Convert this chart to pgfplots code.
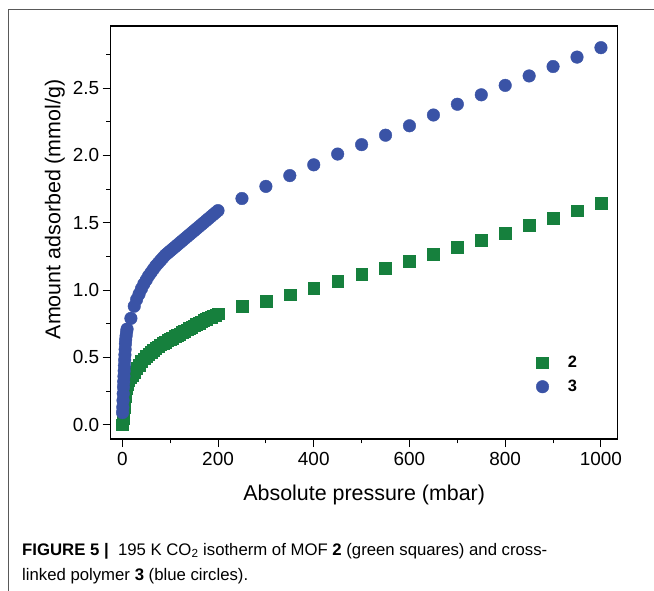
\documentclass[border=0pt]{standalone}
\usepackage{fontspec}
\setmainfont{Liberation Sans}
\usepackage{pgfplots}
\pgfplotsset{compat=1.18}
\definecolor{ptblue}{RGB}{58,83,166}
\definecolor{ptgreen}{RGB}{22,128,61}
\begin{document}
\begin{tikzpicture}
\useasboundingbox (0,0) rectangle (654bp,591bp);
\draw[gray!70!black, line width=0.8bp] (8bp,0) -- (8bp,582bp) -- (654bp,582bp);
\begin{axis}[
  at={(110.7bp,152bp)}, anchor=south west,
  scale only axis, width=507bp, height=413bp,
  xmin=-24.2, xmax=1035, ymin=-0.106, ymax=2.961,
  axis line style={line width=1.1bp},
  every tick/.style={black, line width=1.0bp},
  tick align=outside,
  xtick pos=bottom, ytick pos=left,
  xtick={0,200,...,1000}, minor xtick={100,300,...,900},
  ytick={0,0.5,...,2.5}, minor ytick={0.25,0.75,...,2.75},
  major tick length=8bp, minor tick length=4.5bp,
  /pgf/number format/assume math mode=true,
  yticklabel style={/pgf/number format/.cd, fixed, fixed zerofill, precision=1},
  xticklabel style={yshift=-2bp, /pgf/number format/.cd, fixed, precision=0, set thousands separator={}},
  ticklabel style={font=\fontsize{19}{22}\selectfont},
  xlabel={Absolute pressure (mbar)},
  ylabel={Amount adsorbed (mmol/g)},
  label style={font=\fontsize{21.5}{24}\selectfont},
  xlabel style={at={(axis description cs:0.5,-0.148)}, anchor=base},
  ylabel style={at={(axis description cs:-0.11,0.556)}, anchor=center},
  legend style={draw=none, fill=none, at={(0.833,0.1556)}, anchor=west,
    font=\fontsize{16.5}{20}\selectfont\bfseries, row sep=7bp,
    /tikz/every odd column/.append style={column sep=17bp}},
  legend cell align=left,
]
\addplot[only marks, mark=square*, mark size=5.9bp, color=ptgreen] coordinates {
(0,0.0) (1,0.02) (2,0.05) (3,0.09) (4,0.13) (5,0.17) (6,0.21) (7,0.24) (8,0.27)
(10,0.30) (13,0.33) (16,0.35) (20,0.37) (25,0.39) (30,0.42) (35,0.445) (40,0.47)
(45,0.49) (50,0.51) (55,0.525) (60,0.54) (65,0.555) (70,0.57) (75,0.58) (80,0.595)
(85,0.605) (90,0.615) (95,0.625) (100,0.635) (105,0.645) (110,0.655) (115,0.665)
(120,0.675) (125,0.685) (130,0.695) (135,0.705) (140,0.715) (145,0.725) (150,0.735)
(155,0.745) (160,0.755) (165,0.765) (170,0.775) (175,0.785) (180,0.795) (185,0.80)
(190,0.81) (195,0.815) (200,0.825) (250,0.88) (300,0.92) (350,0.965) (400,1.015)
(450,1.065) (500,1.115) (550,1.16) (600,1.215) (650,1.265) (700,1.32) (750,1.37)
(800,1.42) (850,1.48) (900,1.535) (950,1.59) (1000,1.645)
};
\addlegendentry{2}
\addplot[only marks, mark=*, mark size=6.3bp, color=ptblue] coordinates {
(0.5,0.09) (1,0.13) (1.5,0.18) (2,0.23) (2.5,0.28) (3,0.32) (3.5,0.36) (4,0.40)
(4.5,0.44) (5,0.48) (5.5,0.52) (6,0.56) (6.5,0.60) (7,0.63) (8,0.66) (9,0.69)
(10,0.71) (18,0.79) (25,0.88) (30,0.93) (35,0.97) (40,1.01) (45,1.045) (50,1.075)
(55,1.105) (60,1.13) (65,1.155) (70,1.18) (75,1.20) (80,1.22) (85,1.24) (90,1.26)
(95,1.275) (100,1.29) (105,1.305) (110,1.32) (115,1.335) (120,1.35) (125,1.365)
(130,1.38) (135,1.395) (140,1.41) (145,1.425) (150,1.44) (155,1.455) (160,1.47)
(165,1.485) (170,1.50) (175,1.515) (180,1.53) (185,1.545) (190,1.56) (195,1.575)
(200,1.59) (250,1.68) (300,1.77) (350,1.85) (400,1.93) (450,2.01) (500,2.08)
(550,2.15) (600,2.22) (650,2.30) (700,2.38) (750,2.45) (800,2.52) (850,2.59)
(900,2.66) (950,2.73) (1000,2.80)
};
\addlegendentry{3}
\end{axis}
\node[anchor=base west, inner sep=0pt, font=\fontsize{16.8}{19}\selectfont] at (22bp,36bp)
  {\textbf{FIGURE 5} \textbf{|}\ \ 195 K CO\textsubscript{2} isotherm of MOF \textbf{2} (green squares) and cross-};
\node[anchor=base west, inner sep=0pt, font=\fontsize{16.8}{19}\selectfont] at (22bp,11bp)
  {linked polymer \textbf{3} (blue circles).};
\end{tikzpicture}
\end{document}
